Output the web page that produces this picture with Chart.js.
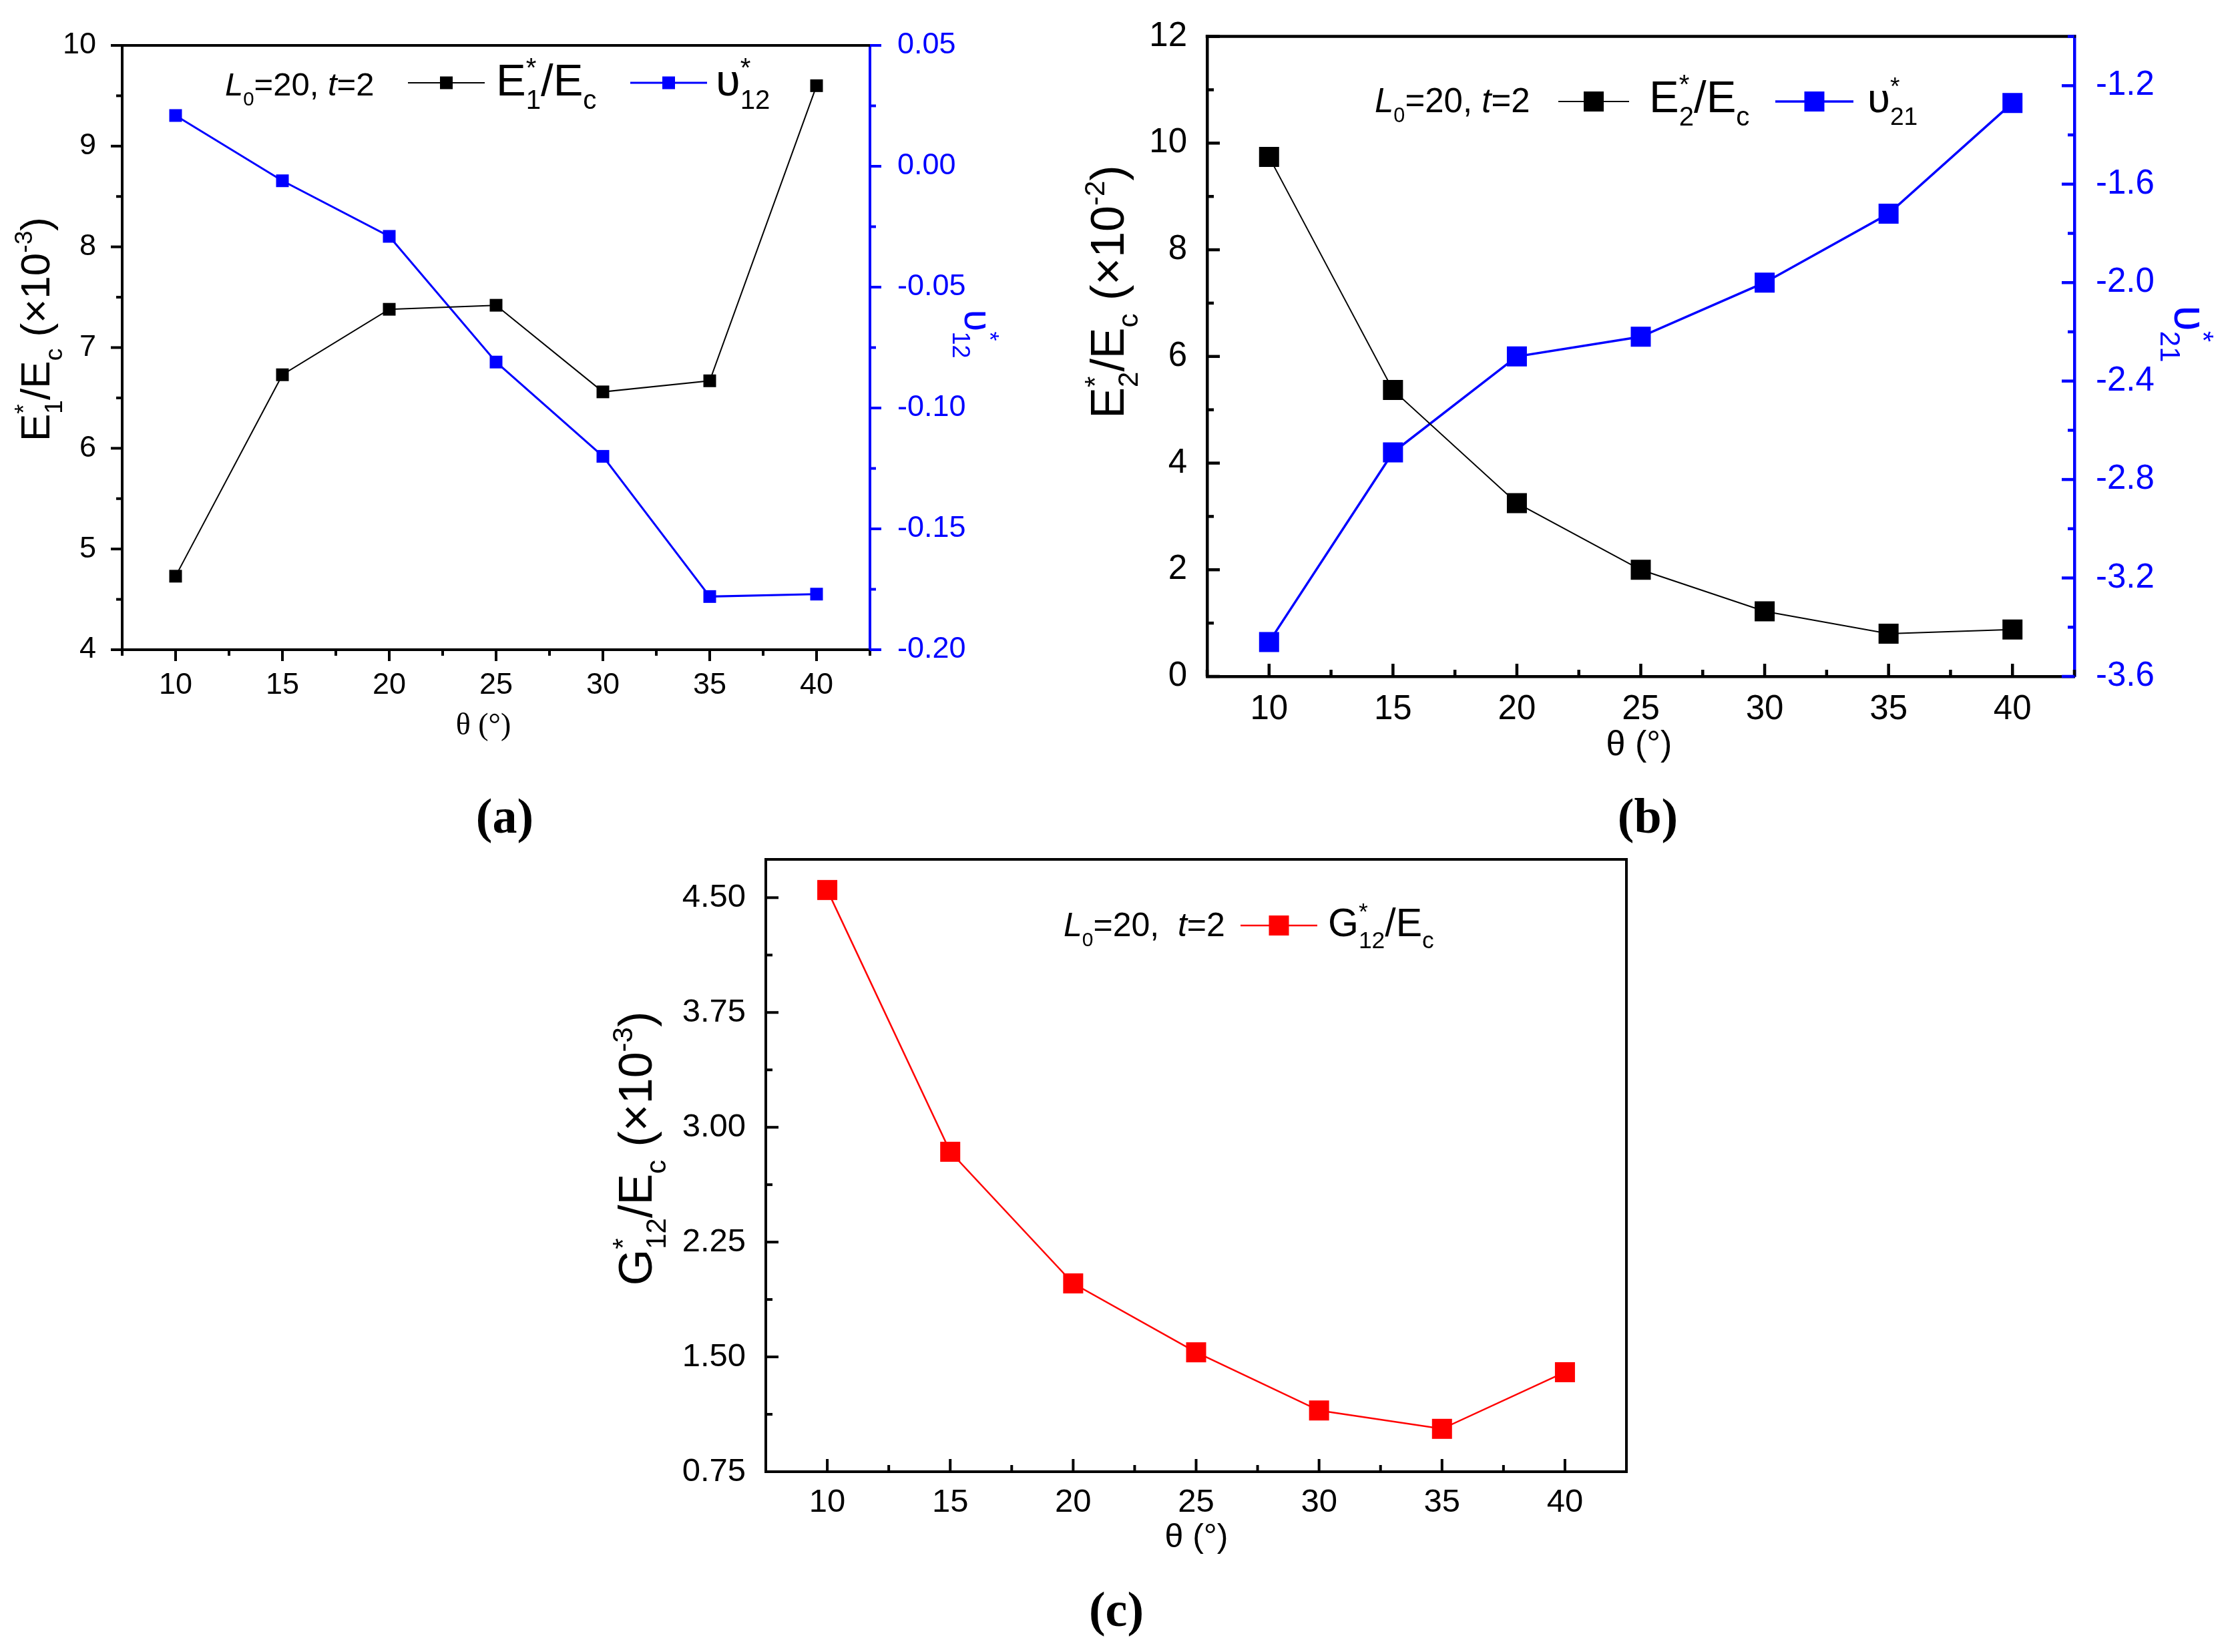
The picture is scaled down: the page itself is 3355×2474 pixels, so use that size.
<!DOCTYPE html>
<html>
<head>
<meta charset="utf-8">
<title>Effective properties vs theta</title>
<script src="https://cdn.jsdelivr.net/npm/chart.js@4.4.1/dist/chart.umd.min.js"></script>
<style>
    html, body { margin: 0; padding: 0; background: #fff; }
    body { width: 3355px; height: 2474px; position: relative; overflow: hidden; }
    .panel { position: absolute; }
    .tag { position: absolute; font: bold 74px 'Liberation Serif', serif; transform: translate(-50%, -50%); color: #000; }
</style>
</head>
<body>
<div class="panel" style="left:0px;top:0px;width:1640px;height:1160px"><canvas id="chartA"></canvas></div>
<div class="panel" style="left:1560px;top:0px;width:1795px;height:1160px"><canvas id="chartB"></canvas></div>
<div class="panel" style="left:860px;top:1180px;width:1740px;height:1180px"><canvas id="chartC"></canvas></div>
<div class="tag" style="left:756px;top:1222px">(a)</div>
<div class="tag" style="left:2468px;top:1222px">(b)</div>
<div class="tag" style="left:1672px;top:2410px">(c)</div>

<script>
// ---- data ----
const theta = [10, 15, 20, 25, 30, 35, 40];
const e1Ratio = [4.73, 6.73, 7.38, 7.42, 6.56, 6.67, 9.60];          // E1*/Ec (x10^-3)
const nu12 = [0.021, -0.006, -0.029, -0.081, -0.120, -0.178, -0.177];
const e2Ratio = [9.74, 5.37, 3.25, 2.00, 1.22, 0.80, 0.88];           // E2*/Ec (x10^-2)
const nu21 = [-3.46, -2.69, -2.30, -2.22, -2.00, -1.72, -1.27];
const g12Ratio = [4.55, 2.84, 1.98, 1.53, 1.15, 1.03, 1.40];          // G12*/Ec (x10^-3)

// ---- tick labels ----
const thetaTicks = [10, 15, 20, 25, 30, 35, 40];
const e1Ticks = [4, 5, 6, 7, 8, 9, 10];
const nu12Ticks = [-0.20, -0.15, -0.10, -0.05, 0.00, 0.05];
const e2Ticks = [0, 2, 4, 6, 8, 10, 12];
const nu21Ticks = [-3.6, -3.2, -2.8, -2.4, -2.0, -1.6, -1.2];
const g12Ticks = [0.75, 1.50, 2.25, 3.00, 3.75, 4.50];

const SANS = "'Liberation Sans', Arial, sans-serif";
const SERIF = "'Liberation Serif', 'Times New Roman', serif";
const BLUE = '#0000ff';
const RED = '#ff0000';

function pts(xs, ys) {
    return xs.map((x, i) => ({ x: x, y: ys[i] }));
}

// minor ticks half way between the major ones
function minorsOf(majors, min, max) {
    const step = majors[1] - majors[0];
    const out = [];
    for (let v = majors[0] - step / 2; v <= max + 1e-9; v += step) {
        if (v >= min - 1e-9) out.push(v);
    }
    return out;
}

// draws text with sub/superscripts; parts are strings or {t,i} / {sup,sub}
function drawRich(ctx, parts, x, y, o) {
    const size = o.size;
    const fam = o.family || SANS;
    const small = size * 0.6;
    const font = (sz, it) => (it ? 'italic ' : '') + sz + 'px ' + fam;
    const items = [];
    let w = 0;
    parts.forEach(p => {
        if (typeof p === 'string') p = { t: p };
        if (p.t !== undefined) {
            ctx.font = font(size, p.i);
            items.push({ text: p.t, font: font(size, p.i), dx: w, dy: 0 });
            w += ctx.measureText(p.t).width;
        } else {
            ctx.font = font(small);
            let adv = 0;
            if (p.sup) {
                items.push({ text: p.sup, font: font(small), dx: w, dy: -size * 0.42 });
                adv = Math.max(adv, ctx.measureText(p.sup).width);
            }
            if (p.sub) {
                items.push({ text: p.sub, font: font(small), dx: w, dy: size * 0.3 });
                adv = Math.max(adv, ctx.measureText(p.sub).width);
            }
            w += adv;
        }
    });
    ctx.save();
    ctx.translate(x, y);
    if (o.rot) ctx.rotate(o.rot);
    const x0 = o.align === 'center' ? -w / 2 : 0;
    ctx.fillStyle = o.color || '#000';
    ctx.textAlign = 'left';
    ctx.textBaseline = 'alphabetic';
    items.forEach(it => {
        ctx.font = it.font;
        ctx.fillText(it.text, x0 + it.dx, it.dy);
    });
    ctx.restore();
}

// frame, inside/outside tick marks, titles and legend of one panel
function makeDecor(spec) {
    return {
        id: 'decor',
        afterDraw(chart) {
            const ctx = chart.ctx;
            const area = chart.chartArea;
            ctx.save();

            // top (and right) frame line
            ctx.strokeStyle = '#000';
            ctx.lineWidth = spec.frameWidth;
            ctx.lineCap = 'square';
            ctx.beginPath();
            ctx.moveTo(area.left, area.top);
            ctx.lineTo(area.right, area.top);
            if (spec.closeRight) ctx.lineTo(area.right, area.bottom);
            ctx.stroke();

            // tick marks
            ctx.lineCap = 'butt';
            spec.ticks.forEach(t => {
                const sc = chart.scales[t.id];
                const sign = t.inward ? -1 : 1;
                ctx.strokeStyle = t.color;
                ctx.lineWidth = spec.frameWidth;
                const mark = (v, len) => {
                    const p = sc.getPixelForValue(v);
                    ctx.beginPath();
                    if (t.side === 'bottom') {
                        ctx.moveTo(p, area.bottom);
                        ctx.lineTo(p, area.bottom + sign * len);
                    } else if (t.side === 'left') {
                        ctx.moveTo(area.left, p);
                        ctx.lineTo(area.left - sign * len, p);
                    } else {
                        ctx.moveTo(area.right, p);
                        ctx.lineTo(area.right + sign * len, p);
                    }
                    ctx.stroke();
                };
                t.major.forEach(v => mark(v, spec.majorLen));
                t.minor.forEach(v => mark(v, spec.minorLen));
            });

            // legend samples
            spec.samples.forEach(s => {
                const x1 = s.x1 - spec.left, x2 = s.x2 - spec.left, y = s.y - spec.top;
                ctx.strokeStyle = s.color;
                ctx.lineWidth = s.lw;
                ctx.beginPath();
                ctx.moveTo(x1, y);
                ctx.lineTo(x2, y);
                ctx.stroke();
                ctx.fillStyle = s.color;
                const cx = (x1 + x2) / 2;
                ctx.fillRect(cx - s.side / 2, y - s.side / 2, s.side, s.side);
            });
            ctx.restore();

            // texts
            spec.texts.forEach(tx => {
                drawRich(ctx, tx.parts, tx.x - spec.left, tx.y - spec.top, tx);
            });
        }
    };
}

function axis(opts) {
    return {
        type: 'linear',
        position: opts.position,
        min: opts.min,
        max: opts.max,
        afterBuildTicks: s => { s.ticks = opts.ticks.map(v => ({ value: v })); },
        afterFit: s => {
            if (opts.position === 'bottom') s.height = opts.extent;
            else s.width = opts.extent;
        },
        grid: { display: false },
        border: { display: true, color: opts.color, width: opts.lineWidth },
        ticks: {
            color: opts.color,
            padding: opts.padding,
            font: { family: SANS, size: opts.fontSize },
            callback: opts.format || (v => String(v))
        }
    };
}

function lineSet(data, color, lw, side, axisId) {
    return {
        data: data,
        yAxisID: axisId,
        borderColor: color,
        backgroundColor: color,
        borderWidth: lw,
        tension: 0,
        pointStyle: 'rect',
        pointRadius: side / Math.SQRT2,
        pointBorderWidth: 0,
        pointBackgroundColor: color
    };
}

function buildChart(id, datasets, scales, padding, spec) {
    return new Chart(document.getElementById(id), {
        type: 'line',
        data: { datasets: datasets },
        options: {
            responsive: true,
            maintainAspectRatio: false,
            animation: false,
            events: [],
            layout: { padding: padding },
            plugins: { legend: { display: false }, tooltip: { enabled: false } },
            scales: scales
        },
        plugins: [makeDecor(spec)]
    });
}

// ---- panel (a) ----
buildChart('chartA',
    [lineSet(pts(theta, e1Ratio), '#000', 2, 19, 'y'),
     lineSet(pts(theta, nu12), BLUE, 3, 19, 'y2')],
    {
        x: axis({ position: 'bottom', min: 7.5, max: 42.5, ticks: thetaTicks, extent: 187, color: '#000', lineWidth: 4, padding: 19, fontSize: 45 }),
        y: axis({ position: 'left', min: 4, max: 10, ticks: e1Ticks, extent: 183, color: '#000', lineWidth: 4, padding: 31, fontSize: 45 }),
        y2: axis({ position: 'right', min: -0.2, max: 0.05, ticks: nu12Ticks, extent: 337, color: BLUE, lineWidth: 4, padding: 33, fontSize: 45,
                   format: v => v.toFixed(2) })
    },
    { left: 0, top: 68, right: 0, bottom: 0 },
    {
        left: 0, top: 0, frameWidth: 4, majorLen: 17, minorLen: 9, closeRight: false,
        ticks: [
            { id: 'x', side: 'bottom', inward: false, color: '#000', major: thetaTicks, minor: minorsOf(thetaTicks, 7.5, 42.5) },
            { id: 'y', side: 'left', inward: false, color: '#000', major: e1Ticks, minor: minorsOf(e1Ticks, 4, 10) },
            { id: 'y2', side: 'right', inward: false, color: BLUE, major: nu12Ticks, minor: minorsOf(nu12Ticks, -0.2, 0.05) }
        ],
        samples: [
            { x1: 611, x2: 726, y: 124, color: '#000', lw: 2, side: 19 },
            { x1: 944, x2: 1059, y: 124, color: BLUE, lw: 3, side: 19 }
        ],
        texts: [
            { parts: ['E', { sup: '*', sub: '1' }, '/E', { sub: 'c' }, ' (×10', { sup: '-3' }, ')'], x: 74, y: 493, size: 62, rot: -Math.PI / 2, align: 'center' },
            { parts: ['υ', { sup: '*', sub: '12' }], x: 1445, y: 500, size: 60, rot: Math.PI / 2, align: 'center', color: BLUE },
            { parts: ['θ (°)'], x: 724, y: 1100, size: 46, align: 'center', family: SERIF },
            { parts: [{ t: 'L', i: true }, { sub: '0' }, '=20, ', { t: 't', i: true }, '=2'], x: 337, y: 143, size: 49 },
            { parts: ['E', { sup: '*', sub: '1' }, '/E', { sub: 'c' }], x: 743, y: 143, size: 67 },
            { parts: ['υ', { sup: '*', sub: '12' }], x: 1072, y: 143, size: 67 }
        ]
    });

// ---- panel (b) ----
buildChart('chartB',
    [lineSet(pts(theta, e2Ratio), '#000', 2, 30, 'y'),
     lineSet(pts(theta, nu21), BLUE, 3.5, 30, 'y2')],
    {
        x: axis({ position: 'bottom', min: 7.5, max: 42.5, ticks: thetaTicks, extent: 147, color: '#000', lineWidth: 4.5, padding: 11, fontSize: 51 }),
        y: axis({ position: 'left', min: 0, max: 12, ticks: e2Ticks, extent: 248, color: '#000', lineWidth: 4.5, padding: 22, fontSize: 51 }),
        y2: axis({ position: 'right', min: -3.6, max: -1.0, ticks: nu21Ticks, extent: 248, color: BLUE, lineWidth: 4.5, padding: 24, fontSize: 51,
                   format: v => v.toFixed(1) })
    },
    { left: 0, top: 46, right: 0, bottom: 0 },
    {
        left: 1560, top: 0, frameWidth: 4.5, majorLen: 19, minorLen: 10, closeRight: false,
        ticks: [
            { id: 'x', side: 'bottom', inward: true, color: '#000', major: thetaTicks, minor: minorsOf(thetaTicks, 7.5, 42.5) },
            { id: 'y', side: 'left', inward: true, color: '#000', major: e2Ticks, minor: minorsOf(e2Ticks, 0, 12) },
            { id: 'y2', side: 'right', inward: true, color: BLUE, major: nu21Ticks, minor: minorsOf(nu21Ticks, -3.6, -1.0) }
        ],
        samples: [
            { x1: 2334, x2: 2440, y: 152, color: '#000', lw: 2, side: 30 },
            { x1: 2659, x2: 2776, y: 152, color: BLUE, lw: 3.5, side: 30 }
        ],
        texts: [
            { parts: ['E', { sup: '*', sub: '2' }, '/E', { sub: 'c' }, ' (×10', { sup: '-2' }, ')'], x: 1683, y: 437, size: 70, rot: -Math.PI / 2, align: 'center' },
            { parts: ['υ', { sup: '*', sub: '21' }], x: 3257, y: 500, size: 70, rot: Math.PI / 2, align: 'center', color: BLUE },
            { parts: ['θ (°)'], x: 2455, y: 1131, size: 52, align: 'center' },
            { parts: [{ t: 'L', i: true }, { sub: '0' }, '=20, ', { t: 't', i: true }, '=2'], x: 2059, y: 168, size: 51 },
            { parts: ['E', { sup: '*', sub: '2' }, '/E', { sub: 'c' }], x: 2470, y: 168, size: 67 },
            { parts: ['υ', { sup: '*', sub: '21' }], x: 2797, y: 168, size: 62 }
        ]
    });

// ---- panel (c) ----
buildChart('chartC',
    [lineSet(pts(theta, g12Ratio), RED, 2.5, 30, 'y')],
    {
        x: axis({ position: 'bottom', min: 7.5, max: 42.5, ticks: thetaTicks, extent: 156, color: '#000', lineWidth: 4, padding: 9, fontSize: 49 }),
        y: axis({ position: 'left', min: 0.75, max: 4.75, ticks: g12Ticks, extent: 287, color: '#000', lineWidth: 4, padding: 22, fontSize: 49,
                  format: v => v.toFixed(2) })
    },
    { left: 0, top: 107, right: 164, bottom: 0 },
    {
        left: 860, top: 1180, frameWidth: 4, majorLen: 19, minorLen: 10, closeRight: true,
        ticks: [
            { id: 'x', side: 'bottom', inward: true, color: '#000', major: thetaTicks, minor: minorsOf(thetaTicks, 7.5, 42.5) },
            { id: 'y', side: 'left', inward: true, color: '#000', major: g12Ticks, minor: minorsOf(g12Ticks, 0.75, 4.75) }
        ],
        samples: [
            { x1: 1858, x2: 1973, y: 1386, color: RED, lw: 2.5, side: 30 }
        ],
        texts: [
            { parts: ['G', { sup: '*', sub: '12' }, '/E', { sub: 'c' }, ' (×10', { sup: '-3' }, ')'], x: 976, y: 1720, size: 70, rot: -Math.PI / 2, align: 'center' },
            { parts: ['θ (°)'], x: 1792, y: 2317, size: 50, align: 'center' },
            { parts: [{ t: 'L', i: true }, { sub: '0' }, '=20,  ', { t: 't', i: true }, '=2'], x: 1593, y: 1402, size: 50 },
            { parts: ['G', { sup: '*', sub: '12' }, '/E', { sub: 'c' }], x: 1989, y: 1402, size: 59 }
        ]
    });
</script>
</body>
</html>
